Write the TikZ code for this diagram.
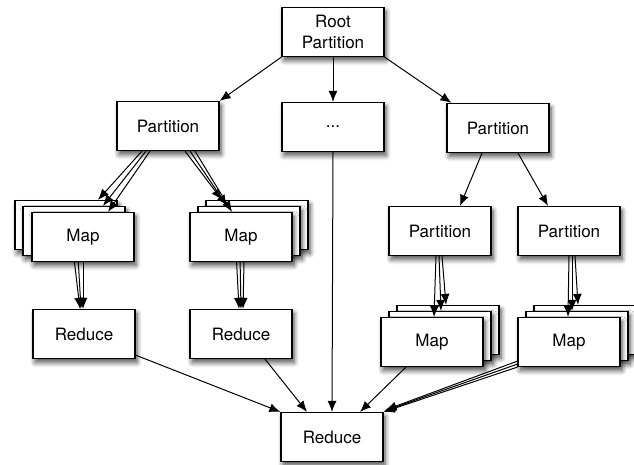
\documentclass[tikz,border=0pt]{standalone}
\usepackage{fontspec}
\setmainfont{TeX Gyre Heros}
\usetikzlibrary{arrows.meta}
\usetikzlibrary{backgrounds}
\usetikzlibrary{shadows.blur}
\tikzset{box/.style={draw, fill=white, line width=1.2pt, minimum width=102pt, minimum height=49pt,
  inner sep=0pt, align=center, font=\fontsize{17}{21}\selectfont,
  blur shadow={shadow xshift=2pt, shadow yshift=-4pt, shadow blur radius=5pt, shadow blur steps=6, shadow opacity=70}}}
\tikzset{link/.style={->, line width=1pt}}

\begin{document}
\begin{tikzpicture}[x=1pt,y=-1pt,>={Latex[length=11pt,width=9pt]}]
\useasboundingbox (0,0) rectangle (634,464);
% partitions
\node[box] (root) at (333,32) {Root\\Partition};
\node[box] (partL) at (168,126) {Partition};
\node[box] (dots) at (333,127) {...};
\node[box] (partR) at (498,128) {Partition};
\node[box] (partC) at (440,231) {Partition};
\node[box] (partD) at (569,231) {Partition};
% map stacks
\node[box] (mapA3) at (66,225) {};
\node[box] (mapA2) at (74,231) {};
\node[box] (mapA) at (83,237) {Map};
\node[box] (mapB3) at (257,225) {};
\node[box] (mapB2) at (249,231) {};
\node[box] (mapB) at (241,237) {Map};
\node[box] (mapC3) at (448,330) {};
\node[box] (mapC2) at (440,336) {};
\node[box] (mapC) at (432,342) {Map};
\node[box] (mapD3) at (585,330) {};
\node[box] (mapD2) at (577,336) {};
\node[box] (mapD) at (569,342) {Map};
% reduces
\node[box] (redA) at (84,334) {Reduce};
\node[box] (redB) at (241,334) {Reduce};
\node[box] (red) at (332,437) {Reduce};

\draw[link] (root.south west) -- (partL.north east);
\draw[link] (root.south) -- (dots.north);
\draw[link] (root.south east) -- ([xshift=5pt]partR.north west);
\draw[link] ([xshift=-16pt]partR.south) -- ([xshift=20pt]partC.north);
\draw[link] ([xshift=20pt]partR.south) -- ([xshift=-21pt]partD.north);

\draw[link] ([xshift=-26pt]partL.south) -- ([xshift=32pt]mapA3.north);
\draw[link] ([xshift=-22pt]partL.south) -- ([xshift=29pt]mapA2.north);
\draw[link] ([xshift=-18pt]partL.south) -- ([xshift=25pt]mapA.north);
\draw[link] ([xshift=17pt]partL.south) -- ([xshift=-35pt]mapB3.north);
\draw[link] ([xshift=22pt]partL.south) -- ([xshift=-22pt]mapB2.north);
\draw[link] ([xshift=27pt]partL.south) -- ([xshift=-9pt]mapB.north);
\draw[link] ([xshift=2pt]partC.south) -- ([xshift=-2pt]mapC3.north);
\draw[link] ([xshift=-1pt]partC.south) -- ([xshift=1pt]mapC2.north);
\draw[link] ([xshift=-4pt]partC.south) -- ([xshift=2pt]mapC.north);
\draw[link] ([xshift=6pt]partD.south) -- ([xshift=-7pt]mapD3.north);
\draw[link] ([xshift=3pt]partD.south) -- ([xshift=-5pt]mapD2.north);
\draw[link] (partD.south) -- ([xshift=-1pt]mapD.north);

\draw[link] ([yshift=4pt]redA.south east) -- (red.north west);
\draw[link] ([xshift=24pt]redB.south) -- ([xshift=-25pt]red.north);
\draw[link] (dots.south) -- (red.north);
\draw[link] ([xshift=-26pt]mapC.south) -- ([xshift=28pt]red.north);
\draw[link] ([yshift=6pt]mapD.south west) -- ([xshift=2pt,yshift=2pt]red.north east);
\draw[link] ([yshift=3pt]mapD.south west) -- ([xshift=1pt,yshift=1pt]red.north east);
\draw[link] (mapD.south west) -- (red.north east);

\begin{scope}[on background layer]
\draw[link] ([xshift=7pt]mapA3.south) -- ([xshift=-4pt]redA.north);
\draw[link] ([xshift=4pt]mapA2.south) -- ([xshift=-3pt]redA.north);
\draw[link] (mapA.south) -- ([xshift=-1pt]redA.north);
\draw[link] ([xshift=-21pt]mapB3.south) -- ([xshift=-2pt]redB.north);
\draw[link] ([xshift=-9pt]mapB2.south) -- (redB.north);
\draw[link] ([xshift=3pt]mapB.south) -- ([xshift=2pt]redB.north);
\end{scope}
\end{tikzpicture}
\end{document}
